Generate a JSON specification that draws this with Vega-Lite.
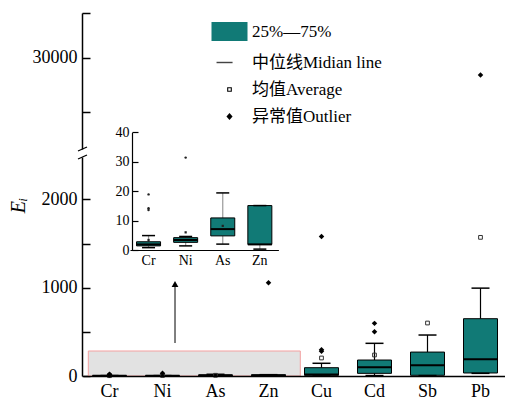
{
  "$schema": "https://vega.github.io/schema/vega-lite/v6.json",
  "width": 423,
  "height": 363,
  "autosize": {"type": "none"},
  "padding": {"left": 82, "top": 13, "right": 0, "bottom": 25},
  "background": "white",
  "config": {
    "view": {"stroke": null},
    "axis": {"grid": false, "labelFont": "Liberation Serif", "labelColor": "#000", "domainColor": "#000", "tickColor": "#000", "titleFont": "Liberation Serif", "titleColor": "#000", "titleFontWeight": "normal"}
  },
  "datasets": {
    "stats": [
      {"element": "Cr", "lo": 0.8, "q1": 1.4, "median": 1.9, "q3": 2.8, "hi": 4.9, "mean": 3.4},
      {"element": "Ni", "lo": 1.4, "q1": 2.6, "median": 3.4, "q3": 4.2, "hi": 4.6, "mean": 6.0},
      {"element": "As", "lo": 2.0, "q1": 4.8, "median": 7.1, "q3": 10.9, "hi": 19.4, "mean": 8.2},
      {"element": "Zn", "lo": 0.3, "q1": 1.9, "median": 1.9, "q3": 15.1, "hi": 15.1, "mean": null},
      {"element": "Cu", "lo": 0, "q1": 8, "median": 18, "q3": 94, "hi": 144, "mean": 204},
      {"element": "Cd", "lo": 5, "q1": 30, "median": 98, "q3": 181, "hi": 370, "mean": 238},
      {"element": "Sb", "lo": 5, "q1": 8, "median": 121, "q3": 271, "hi": 464, "mean": 600},
      {"element": "Pb", "lo": 30, "q1": 34, "median": 189, "q3": 649, "hi": 995, "mean": 1570}
    ],
    "outliers": [
      {"element": "Cr", "value": 18.9},
      {"element": "Cr", "value": 14.2},
      {"element": "Cr", "value": 13.6},
      {"element": "Ni", "value": 31.4},
      {"element": "Zn", "value": 1055},
      {"element": "Cu", "value": 280},
      {"element": "Cu", "value": 296},
      {"element": "Cu", "value": 1580},
      {"element": "Cd", "value": 502},
      {"element": "Cd", "value": 596},
      {"element": "Pb", "value": 29213}
    ],
    "legendItems": [
      {"item": "25%—75%"},
      {"item": "中位线Midian line"},
      {"item": "均值Average"},
      {"item": "异常值Outlier"}
    ],
    "anchor": [{}]
  },
  "layer": [
    {
      "data": {"name": "anchor"},
      "layer": [
        {
          "mark": {"type": "rect", "fill": "#e2e2e2", "stroke": "#f3a0a0", "strokeWidth": 1},
          "encoding": {
            "x": {"datum": 0.1, "type": "quantitative", "scale": {"domain": [0, 8], "range": [1, 425], "nice": false, "zero": false}, "axis": null},
            "x2": {"datum": 4.1},
            "y": {"datum": 0, "type": "quantitative", "scale": {"domain": [0, 2480], "range": [363, 144], "nice": false, "zero": false}, "axis": null},
            "y2": {"datum": 283}
          }
        },
        {
          "mark": {"type": "rule", "color": "#555", "strokeWidth": 1.5},
          "encoding": {
            "x": {"datum": 1.736, "type": "quantitative", "scale": {"domain": [0, 8], "range": [1, 425], "nice": false, "zero": false}, "axis": null},
            "y": {"datum": 373, "type": "quantitative", "scale": {"domain": [0, 2480], "range": [363, 144], "nice": false, "zero": false}, "axis": null},
            "y2": {"datum": 1030}
          }
        },
        {
          "mark": {"type": "point", "shape": "triangle-up", "filled": true, "color": "#000", "size": 45, "opacity": 1},
          "encoding": {
            "x": {"datum": 1.736, "type": "quantitative", "scale": {"domain": [0, 8], "range": [1, 425], "nice": false, "zero": false}, "axis": null},
            "y": {"datum": 1042, "type": "quantitative", "scale": {"domain": [0, 2480], "range": [363, 144], "nice": false, "zero": false}, "axis": null}
          }
        },
        {
          "mark": {"type": "rule", "color": "#000", "strokeWidth": 1.3},
          "encoding": {
            "x": {"datum": -0.094, "type": "quantitative", "scale": {"domain": [0, 8], "range": [1, 425], "nice": false, "zero": false}, "axis": null},
            "x2": {"datum": 0.075},
            "y": {"datum": 2457, "type": "quantitative", "scale": {"domain": [0, 2480], "range": [363, 144], "nice": false, "zero": false}, "axis": null},
            "y2": {"datum": 2503}
          }
        },
        {
          "mark": {"type": "rule", "color": "#000", "strokeWidth": 1.3},
          "encoding": {
            "x": {"datum": -0.094, "type": "quantitative", "scale": {"domain": [0, 8], "range": [1, 425], "nice": false, "zero": false}, "axis": null},
            "x2": {"datum": 0.075},
            "y": {"datum": 2548, "type": "quantitative", "scale": {"domain": [0, 2480], "range": [363, 144], "nice": false, "zero": false}, "axis": null},
            "y2": {"datum": 2593}
          }
        },
        {
          "data": {"name": "legendItems"},
          "transform": [{"filter": "false"}],
          "mark": {"type": "point", "filled": true, "opacity": 1, "stroke": "#222", "strokeWidth": 1},
          "encoding": {
            "color": {
              "field": "item", "type": "nominal",
              "scale": {"domain": ["25%—75%", "中位线Midian line", "均值Average", "异常值Outlier"], "range": ["#117a76", "#444444", "#000000", "#000000"]},
              "legend": {"orient": "none", "legendX": 129, "legendY": 0, "title": null, "symbolSize": 1296, "labelFontSize": 17, "labelFont": "Liberation Serif, Noto Sans CJK SC", "labelColor": "#000", "labelOffset": 4, "rowPadding": -17, "padding": 0, "symbolStrokeColor": "#222", "symbolStrokeWidth": 1, "symbolOpacity": 1, "labelLimit": 300}
            },
            "shape": {
              "field": "item", "type": "nominal",
              "scale": {"domain": ["25%—75%", "中位线Midian line", "均值Average", "异常值Outlier"], "range": ["M-1,-0.53H1V0.53H-1Z", "M-0.72,-0.04H0.17V0.04H-0.72Z", "M-0.13,-0.13H0.13V0.13H-0.13Z M-0.07,-0.07V0.07H0.07V-0.07Z", "M0,-0.2L0.17,0L0,0.2L-0.17,0Z"]},
              "legend": {"orient": "none", "legendX": 129, "legendY": 0, "title": null, "symbolSize": 1296, "labelFontSize": 17, "labelFont": "Liberation Serif, Noto Sans CJK SC", "labelColor": "#000", "labelOffset": 4, "rowPadding": -17, "padding": 0, "symbolStrokeColor": "#222", "symbolStrokeWidth": 1, "symbolOpacity": 1, "labelLimit": 300}
            }
          }
        }
      ]
    },
    {
      "data": {"name": "stats"},
      "encoding": {
        "x": {"field": "element", "type": "nominal", "scale": {"type": "band", "domain": ["Cr", "Ni", "As", "Zn", "Cu", "Cd", "Sb", "Pb"], "range": [1, 425], "paddingInner": 0, "paddingOuter": 0},
          "axis": {"orient": "bottom", "ticks": false, "labelPadding": 6, "labelFontSize": 18, "title": null, "domainWidth": 1.5, "labelAngle": 0, "zindex": 1}}
      },
      "layer": [
        {
          "mark": {"type": "rule", "color": "#000", "strokeWidth": 1.2},
          "encoding": {
            "y": {"field": "lo", "type": "quantitative", "scale": {"domain": [0, 2480], "range": [363, 144], "nice": false, "zero": false},
              "axis": {"orient": "left", "values": [0, 500, 1000, 1500, 2000], "labelExpr": "datum.value % 1000 === 0 ? datum.label : ''", "format": "d", "tickSize": -8, "tickWidth": 1.5, "labelPadding": 13, "labelFontSize": 18, "domainWidth": 1.5, "title": "Eᵢ", "titleFont": "Liberation Serif, DejaVu Serif", "titleFontStyle": "italic", "titleFontSize": 20, "titleAngle": 270, "titleX": -64, "titleY": 192, "titleBaseline": "middle", "titleAlign": "center"}},
            "y2": {"field": "q1"}
          }
        },
        {
          "mark": {"type": "rule", "color": "#000", "strokeWidth": 1.2},
          "encoding": {"y": {"field": "q3", "type": "quantitative",
              "axis": {"orient": "left", "values": [0, 500, 1000, 1500, 2000], "labelExpr": "datum.value % 1000 === 0 ? datum.label : ''", "format": "d", "tickSize": -8, "tickWidth": 1.5, "labelPadding": 13, "labelFontSize": 18, "domainWidth": 1.5, "title": "Eᵢ", "titleFont": "Liberation Serif, DejaVu Serif", "titleFontStyle": "italic", "titleFontSize": 20, "titleAngle": 270, "titleX": -64, "titleY": 192, "titleBaseline": "middle", "titleAlign": "center"}}, "y2": {"field": "hi"}}
        },
        {
          "mark": {"type": "bar", "size": 34, "fill": "#117a76", "stroke": "#000", "strokeWidth": 1},
          "encoding": {"y": {"field": "q1", "type": "quantitative",
              "axis": {"orient": "left", "values": [0, 500, 1000, 1500, 2000], "labelExpr": "datum.value % 1000 === 0 ? datum.label : ''", "format": "d", "tickSize": -8, "tickWidth": 1.5, "labelPadding": 13, "labelFontSize": 18, "domainWidth": 1.5, "title": "Eᵢ", "titleFont": "Liberation Serif, DejaVu Serif", "titleFontStyle": "italic", "titleFontSize": 20, "titleAngle": 270, "titleX": -64, "titleY": 192, "titleBaseline": "middle", "titleAlign": "center"}}, "y2": {"field": "q3"}}
        },
        {
          "mark": {"type": "tick", "size": 34, "thickness": 2, "color": "#000", "opacity": 1},
          "encoding": {"y": {"field": "median", "type": "quantitative",
              "axis": {"orient": "left", "values": [0, 500, 1000, 1500, 2000], "labelExpr": "datum.value % 1000 === 0 ? datum.label : ''", "format": "d", "tickSize": -8, "tickWidth": 1.5, "labelPadding": 13, "labelFontSize": 18, "domainWidth": 1.5, "title": "Eᵢ", "titleFont": "Liberation Serif, DejaVu Serif", "titleFontStyle": "italic", "titleFontSize": 20, "titleAngle": 270, "titleX": -64, "titleY": 192, "titleBaseline": "middle", "titleAlign": "center"}}}
        },
        {
          "mark": {"type": "tick", "size": 18, "thickness": 1.5, "color": "#000", "opacity": 1},
          "encoding": {"y": {"field": "hi", "type": "quantitative",
              "axis": {"orient": "left", "values": [0, 500, 1000, 1500, 2000], "labelExpr": "datum.value % 1000 === 0 ? datum.label : ''", "format": "d", "tickSize": -8, "tickWidth": 1.5, "labelPadding": 13, "labelFontSize": 18, "domainWidth": 1.5, "title": "Eᵢ", "titleFont": "Liberation Serif, DejaVu Serif", "titleFontStyle": "italic", "titleFontSize": 20, "titleAngle": 270, "titleX": -64, "titleY": 192, "titleBaseline": "middle", "titleAlign": "center"}}}
        },
        {
          "mark": {"type": "tick", "size": 18, "thickness": 1.5, "color": "#000", "opacity": 1},
          "encoding": {"y": {"field": "lo", "type": "quantitative",
              "axis": {"orient": "left", "values": [0, 500, 1000, 1500, 2000], "labelExpr": "datum.value % 1000 === 0 ? datum.label : ''", "format": "d", "tickSize": -8, "tickWidth": 1.5, "labelPadding": 13, "labelFontSize": 18, "domainWidth": 1.5, "title": "Eᵢ", "titleFont": "Liberation Serif, DejaVu Serif", "titleFontStyle": "italic", "titleFontSize": 20, "titleAngle": 270, "titleX": -64, "titleY": 192, "titleBaseline": "middle", "titleAlign": "center"}}}
        },
        {
          "mark": {"type": "point", "shape": "square", "size": 14, "filled": false, "stroke": "#333", "strokeWidth": 1, "opacity": 1},
          "encoding": {"y": {"field": "mean", "type": "quantitative",
              "axis": {"orient": "left", "values": [0, 500, 1000, 1500, 2000], "labelExpr": "datum.value % 1000 === 0 ? datum.label : ''", "format": "d", "tickSize": -8, "tickWidth": 1.5, "labelPadding": 13, "labelFontSize": 18, "domainWidth": 1.5, "title": "Eᵢ", "titleFont": "Liberation Serif, DejaVu Serif", "titleFontStyle": "italic", "titleFontSize": 20, "titleAngle": 270, "titleX": -64, "titleY": 192, "titleBaseline": "middle", "titleAlign": "center"}}}
        },
        {
          "data": {"name": "outliers"},
          "transform": [{"filter": "datum.value <= 2480"}],
          "mark": {"type": "point", "shape": "diamond", "size": 30, "filled": true, "color": "#000", "opacity": 1},
          "encoding": {"y": {"field": "value", "type": "quantitative",
              "axis": {"orient": "left", "values": [0, 500, 1000, 1500, 2000], "labelExpr": "datum.value % 1000 === 0 ? datum.label : ''", "format": "d", "tickSize": -8, "tickWidth": 1.5, "labelPadding": 13, "labelFontSize": 18, "domainWidth": 1.5, "title": "Eᵢ", "titleFont": "Liberation Serif, DejaVu Serif", "titleFontStyle": "italic", "titleFontSize": 20, "titleAngle": 270, "titleX": -64, "titleY": 192, "titleBaseline": "middle", "titleAlign": "center"}}}
        }
      ]
    },
    {
      "data": {"name": "outliers"},
      "transform": [{"filter": "datum.value > 2480"}],
      "mark": {"type": "point", "shape": "diamond", "size": 30, "filled": true, "color": "#000", "opacity": 1},
      "encoding": {
        "x": {"field": "element", "type": "nominal", "scale": {"type": "band", "domain": ["Cr", "Ni", "As", "Zn", "Cu", "Cd", "Sb", "Pb"], "range": [1, 425], "paddingInner": 0, "paddingOuter": 0}, "axis": null},
        "y": {"field": "value", "type": "quantitative", "scale": {"domain": [25787, 32083], "range": [136, 0], "nice": false, "zero": false},
          "axis": {"orient": "left", "values": [27500, 30000, 32083], "labelExpr": "datum.value === 30000 ? '30000' : ''", "tickSize": -8, "tickWidth": 1.5, "labelPadding": 13, "labelFontSize": 18, "domainWidth": 1.5, "title": null}}
      }
    },
    {
      "data": {"name": "stats"},
      "transform": [{"filter": {"field": "element", "oneOf": ["Cr", "Ni", "As", "Zn"]}}],
      "encoding": {
        "x": {"field": "element", "type": "nominal", "scale": {"type": "band", "domain": ["Cr", "Ni", "As", "Zn"], "range": [48, 196.4], "paddingInner": 0, "paddingOuter": 0},
          "axis": {"orient": "bottom", "offset": -126, "ticks": false, "labelPadding": 3, "labelFontSize": 14, "labelAngle": 0, "title": null, "domainWidth": 1.2}}
      },
      "layer": [
        {
          "mark": {"type": "rule", "color": "#999", "strokeWidth": 1.2},
          "encoding": {
            "y": {"field": "lo", "type": "quantitative", "scale": {"domain": [0, 40], "range": [237, 119.3], "nice": false, "zero": false},
              "axis": {"orient": "left", "offset": -50, "values": [0, 10, 20, 30, 40], "tickSize": -6, "tickWidth": 1.2, "labelPadding": 9, "labelFontSize": 14, "domainWidth": 1.2, "title": null}},
            "y2": {"field": "q1"}
          }
        },
        {
          "mark": {"type": "rule", "color": "#999", "strokeWidth": 1.2},
          "encoding": {"y": {"field": "q3", "type": "quantitative",
              "axis": {"orient": "left", "offset": -50, "values": [0, 10, 20, 30, 40], "tickSize": -6, "tickWidth": 1.2, "labelPadding": 9, "labelFontSize": 14, "domainWidth": 1.2, "title": null}}, "y2": {"field": "hi"}}
        },
        {
          "mark": {"type": "bar", "size": 24, "fill": "#117a76", "stroke": "#000", "strokeWidth": 1},
          "encoding": {"y": {"field": "q1", "type": "quantitative",
              "axis": {"orient": "left", "offset": -50, "values": [0, 10, 20, 30, 40], "tickSize": -6, "tickWidth": 1.2, "labelPadding": 9, "labelFontSize": 14, "domainWidth": 1.2, "title": null}}, "y2": {"field": "q3"}}
        },
        {
          "mark": {"type": "tick", "size": 24, "thickness": 2, "color": "#000", "opacity": 1},
          "encoding": {"y": {"field": "median", "type": "quantitative",
              "axis": {"orient": "left", "offset": -50, "values": [0, 10, 20, 30, 40], "tickSize": -6, "tickWidth": 1.2, "labelPadding": 9, "labelFontSize": 14, "domainWidth": 1.2, "title": null}}}
        },
        {
          "mark": {"type": "tick", "size": 13, "thickness": 1.5, "color": "#000", "opacity": 1},
          "encoding": {"y": {"field": "hi", "type": "quantitative",
              "axis": {"orient": "left", "offset": -50, "values": [0, 10, 20, 30, 40], "tickSize": -6, "tickWidth": 1.2, "labelPadding": 9, "labelFontSize": 14, "domainWidth": 1.2, "title": null}}}
        },
        {
          "mark": {"type": "tick", "size": 13, "thickness": 1.5, "color": "#000", "opacity": 1},
          "encoding": {"y": {"field": "lo", "type": "quantitative",
              "axis": {"orient": "left", "offset": -50, "values": [0, 10, 20, 30, 40], "tickSize": -6, "tickWidth": 1.2, "labelPadding": 9, "labelFontSize": 14, "domainWidth": 1.2, "title": null}}}
        },
        {
          "mark": {"type": "point", "shape": "square", "size": 5, "filled": true, "color": "#222", "opacity": 1},
          "encoding": {"y": {"field": "mean", "type": "quantitative",
              "axis": {"orient": "left", "offset": -50, "values": [0, 10, 20, 30, 40], "tickSize": -6, "tickWidth": 1.2, "labelPadding": 9, "labelFontSize": 14, "domainWidth": 1.2, "title": null}}}
        },
        {
          "data": {"name": "outliers"},
          "transform": [{"filter": {"field": "element", "oneOf": ["Cr", "Ni", "As", "Zn"]}}, {"filter": "datum.value <= 40"}],
          "mark": {"type": "point", "shape": "circle", "size": 6, "filled": true, "color": "#222", "opacity": 1},
          "encoding": {"y": {"field": "value", "type": "quantitative",
              "axis": {"orient": "left", "offset": -50, "values": [0, 10, 20, 30, 40], "tickSize": -6, "tickWidth": 1.2, "labelPadding": 9, "labelFontSize": 14, "domainWidth": 1.2, "title": null}}}
        }
      ]
    }
  ],
  "resolve": {"scale": {"x": "independent", "y": "independent"}}
}
